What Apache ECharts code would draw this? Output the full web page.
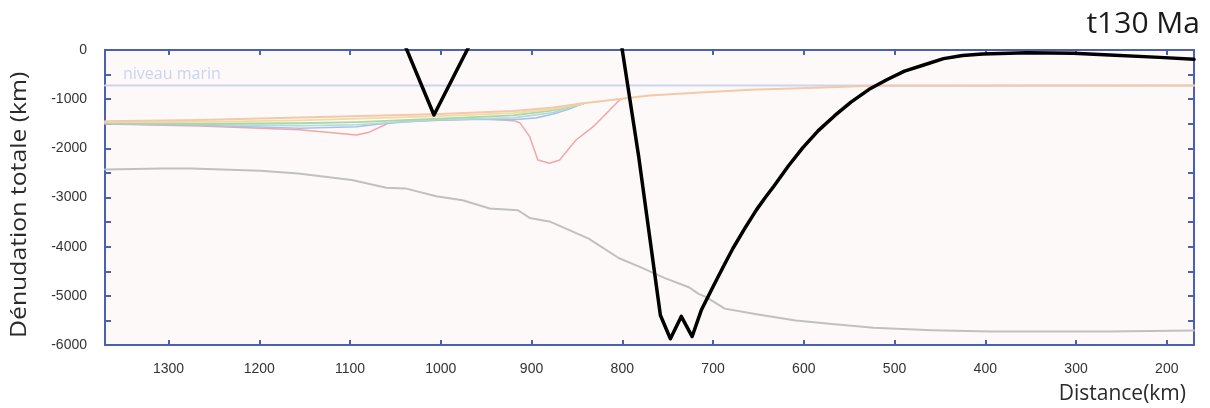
<!DOCTYPE html>
<html><head><meta charset="utf-8">
<script src="https://cdn.jsdelivr.net/npm/echarts@6/dist/echarts.min.js"></script>
<style>html,body{margin:0;padding:0;background:#fff}#c{width:1210px;height:408px}</style>
</head><body><div id="c"></div>
<script>
const distTicks = [200, 300, 400, 500, 600, 700, 800, 900, 1000, 1100, 1200, 1300];
const seaLevelDist = [170, 1370];
const seaLevelVal = [-720, -720];

const blackADist = [1045, 1007.5, 963];
const blackAVal = [340, -1322, 290];
const blackBDist = [805, 800, 782, 758, 747, 735, 723, 713, 700, 689, 678, 665, 652, 642, 633, 617, 601, 584, 566, 548, 528, 508, 489, 467, 446, 425, 403, 354, 303, 263, 208, 170];
const blackBVal = [560, 0, -2156, -5396, -5874, -5419, -5828, -5295, -4817, -4420, -4032, -3630, -3247, -2990, -2770, -2360, -1985, -1640, -1336, -1060, -800, -600, -430, -300, -175, -110, -80, -55, -68, -100, -150, -190];

const grayDist = [1370, 1308, 1275, 1241, 1199, 1157, 1098, 1060, 1039, 1005, 976, 946, 915, 902, 879, 837, 804, 782, 753, 726, 716, 708, 687, 652, 609, 566, 523, 459, 394, 265, 170];
const grayVal = [-2430, -2410, -2410, -2430, -2455, -2510, -2645, -2800, -2815, -2975, -3055, -3225, -3260, -3415, -3495, -3835, -4230, -4400, -4640, -4830, -4960, -5020, -5260, -5375, -5500, -5580, -5650, -5700, -5725, -5725, -5705];

const pinkDist = [1370, 1265, 1155, 1093, 1080, 1058, 1045, 1000, 955, 920, 913, 902, 893, 880, 869, 851, 832, 803, 800];
const pinkVal = [-1505, -1546, -1620, -1730, -1680, -1490, -1460, -1430, -1400, -1437, -1478, -1763, -2237, -2305, -2237, -1831, -1560, -1017, -990];

const blueDist = [1370, 1265, 1155, 1093, 1060, 1008, 950, 920, 895, 876, 860, 843];
const blueVal = [-1500, -1530, -1590, -1560, -1490, -1430, -1410, -1420, -1380, -1300, -1210, -1090];

const cyanDist = [1370, 1265, 1155, 1093, 1008, 920, 876, 843];
const cyanVal = [-1490, -1515, -1540, -1520, -1420, -1380, -1270, -1095];

const greenDist = [1370, 1265, 1155, 1093, 1008, 920, 876, 843];
const greenVal = [-1480, -1500, -1490, -1465, -1400, -1330, -1230, -1092];

const yellowDist = [1370, 1265, 1155, 1008, 920, 876, 843];
const yellowVal = [-1465, -1460, -1430, -1350, -1285, -1200, -1088];

const orangeDist = [1370, 1265, 1155, 1008, 920, 876, 843, 800, 770, 714, 659, 604, 524, 170];
const orangeVal = [-1450, -1424, -1373, -1308, -1241, -1170, -1084, -991, -925, -864, -810, -777, -725, -720];

function pairs(xs, ys) { return xs.map((x, i) => [x, ys[i]]); }
function lineSeries(xs, ys, color, width, z) {
  return { type: 'line', data: pairs(xs, ys), symbol: 'none', smooth: false, clip: true,
    lineStyle: { color: color, width: width, join: 'round', cap: 'round' }, z: z, silent: true, animation: false };
}

const axisBlue = '#4c5fb2';
const tickFont = 'Liberation Sans, Arial, sans-serif';
const chart = echarts.init(document.getElementById('c'), null, { renderer: 'canvas' });
chart.setOption({
  animation: false,
  backgroundColor: '#ffffff',
  grid: { left: 105, right: 16, top: 50, bottom: 63, show: true, backgroundColor: '#fdf9f8', borderWidth: 0 },
  xAxis: [
    { type: 'value', inverse: true, min: 170, max: 1370, position: 'bottom',
      axisLine: { show: true, onZero: false, lineStyle: { color: axisBlue, width: 2 } },
      axisTick: { show: true, inside: true, length: 5, customValues: distTicks, lineStyle: { color: axisBlue, width: 2 } },
      axisLabel: { show: true, customValues: distTicks, margin: 17, color: '#333', fontSize: 14, fontFamily: tickFont,
        formatter: v => String(v) },
      splitLine: { show: false } },
    { type: 'value', inverse: true, min: 170, max: 1370, position: 'top',
      axisLine: { show: true, onZero: false, lineStyle: { color: axisBlue, width: 2 } },
      axisTick: { show: true, inside: true, length: 5, customValues: distTicks, lineStyle: { color: axisBlue, width: 2 } },
      axisLabel: { show: false }, splitLine: { show: false } }
  ],
  yAxis: [
    { type: 'value', min: -6000, max: 0, interval: 500, position: 'left',
      axisLine: { show: true, onZero: false, lineStyle: { color: axisBlue, width: 2 } },
      axisTick: { show: true, inside: true, length: 6, lineStyle: { color: axisBlue, width: 2 } },
      axisLabel: { show: true, margin: 18, color: '#333', fontSize: 14, fontFamily: tickFont,
        formatter: v => (v % 1000 === 0 ? String(v) : '') },
      splitLine: { show: false } },
    { type: 'value', min: -6000, max: 0, interval: 500, position: 'right',
      axisLine: { show: true, onZero: false, lineStyle: { color: axisBlue, width: 2 } },
      axisTick: { show: true, inside: true, length: 6, lineStyle: { color: axisBlue, width: 2 } },
      axisLabel: { show: false }, splitLine: { show: false } }
  ],
  series: [
    lineSeries(seaLevelDist, seaLevelVal, '#cbd6ee', 2, 1),
    lineSeries(grayDist, grayVal, '#c0c0c0', 2, 2),
    lineSeries(pinkDist, pinkVal, '#f3a5a8', 1.5, 3),
    lineSeries(blueDist, blueVal, '#aac0ea', 1.6, 4),
    lineSeries(cyanDist, cyanVal, '#a9dcdb', 1.6, 5),
    lineSeries(greenDist, greenVal, '#abd6a5', 1.8, 6),
    lineSeries(yellowDist, yellowVal, '#efdca2', 1.8, 7),
    lineSeries(orangeDist, orangeVal, '#f4c8a8', 2, 8),
    lineSeries(blackADist, blackAVal, '#000000', 3.5, 10),
    lineSeries(blackBDist, blackBVal, '#000000', 3.5, 10)
  ],
  graphic: [
    { type: 'text', right: 10, top: 9, style: { text: 't130 Ma', fill: '#1a1a1a', font: '30px "Open Sans", sans-serif' } },
    { type: 'text', right: 24, top: 384, style: { text: 'Distance(km)', fill: '#2a2a2a', font: '21px "Open Sans", sans-serif' } },
    { type: 'text', x: 10, y: 338, rotation: Math.PI / 2, scaleX: 1.18, style: { text: 'Dénudation totale (km)', fill: '#2a2a2a', font: '21px "Open Sans", sans-serif', textAlign: 'left', textVerticalAlign: 'top' } },
    { type: 'text', x: 123, y: 66, style: { text: 'niveau marin', fill: '#c9d5ee', font: '16px "Open Sans", sans-serif' } }
  ]
});
</script></body></html>
